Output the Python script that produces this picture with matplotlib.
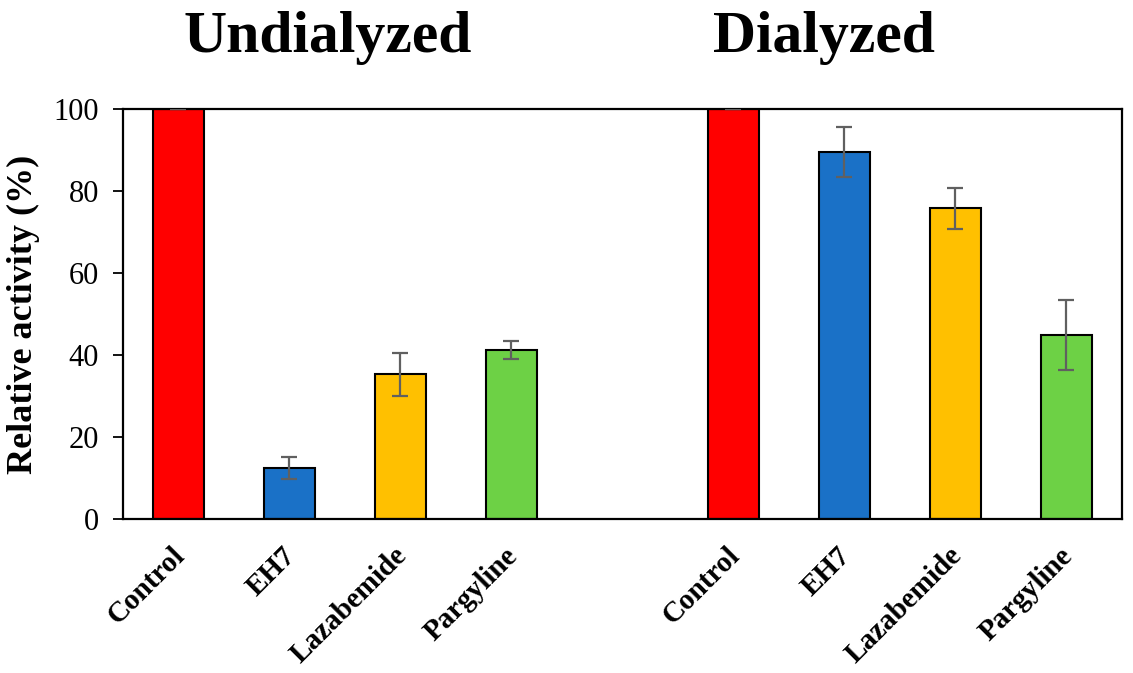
import matplotlib.pyplot as plt
from matplotlib.transforms import ScaledTranslation

# Datos
etiquetas = ['Control', 'EH7', 'Lazabemide', 'Pargyline',
             'Control', 'EH7', 'Lazabemide', 'Pargyline']
posiciones = [0, 1, 2, 3, 5, 6, 7, 8]
actividad = [100, 12.4, 35.3, 41.2, 100, 89.5, 75.8, 44.9]
error = [0, 2.7, 5.2, 2.2, 0, 6.1, 5.0, 8.5]
colores = ['#FF0000', '#1A71C7', '#FFC000', '#6DD145',
           '#FF0000', '#1A71C7', '#FFC000', '#6DD145']

plt.rcParams['font.family'] = ['Liberation Serif', 'DejaVu Serif']

fig = plt.figure(figsize=(11.33, 6.73), dpi=100)
ax = fig.add_axes([0.1083, 0.2284, 0.8817, 0.6096])

ax.bar(posiciones, actividad, width=0.46, color=colores,
       edgecolor='black', linewidth=1.5, zorder=2)
ax.errorbar(posiciones, actividad, yerr=error, fmt='none',
            ecolor='#606060', elinewidth=1.6, capsize=5.5, capthick=1.6, zorder=3)

ax.set_xlim(-0.5, 8.5)
ax.set_ylim(0, 100)
ax.set_yticks([0, 20, 40, 60, 80, 100])
ax.tick_params(axis='y', labelsize=22, length=7, width=1.3, direction='out', pad=10)
ax.tick_params(axis='x', length=0, pad=12)
ax.set_xticks(posiciones)
ax.set_xticklabels(etiquetas, rotation=45, ha='right', rotation_mode='anchor',
                   fontsize=21, fontweight='bold')
# correr las etiquetas un poco en diagonal
desplazamiento = ScaledTranslation(-7/100, -6/100, fig.dpi_scale_trans)
for lbl in ax.get_xticklabels():
    lbl.set_transform(lbl.get_transform() + desplazamiento)
for s in ax.spines.values():
    s.set_linewidth(1.6)

ax.set_ylabel('Relative activity (%)', fontsize=26, fontweight='bold', labelpad=10)

fig.text(328/1133, 1 - 38/673, 'Undialyzed', fontsize=43, fontweight='bold',
         ha='center', va='center')
fig.text(824/1133, 1 - 38/673, 'Dialyzed', fontsize=43, fontweight='bold',
         ha='center', va='center')

fig.savefig('out.png', dpi=100)
